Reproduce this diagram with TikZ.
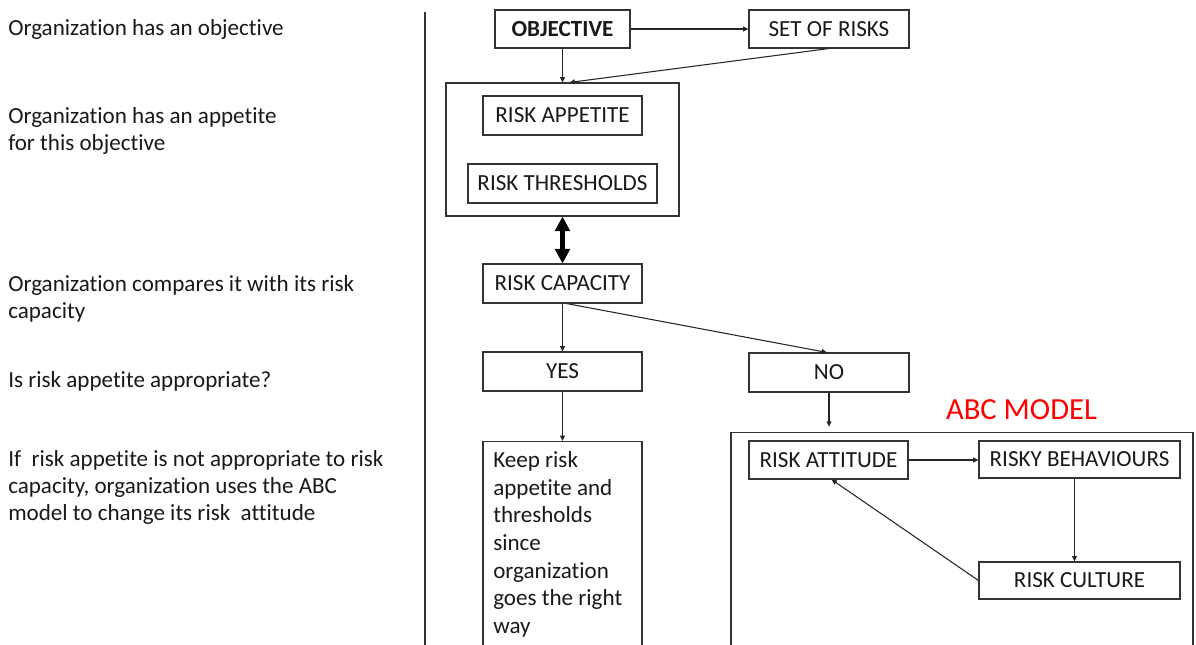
\documentclass[tikz,border=0pt]{standalone}
\usepackage{fontspec}
\setmainfont{Carlito}[Ligatures=NoCommon]
\usetikzlibrary{arrows.meta,calc}
\newcommand\diagfont{\fontsize{17.3}{20.3}\selectfont}
\begin{document}
\begin{tikzpicture}[x=0.75pt,y=-0.75pt,
  every node/.style={font=\diagfont, text=black!90},
  bx/.style 2 args={draw=black!80, line width=0.8pt, inner sep=0pt,
    minimum width={#1*0.75pt}, minimum height={#2*0.75pt}},
  side/.style={anchor=west, align=left, inner sep=0pt},
  conn/.style={draw=black!85, line width=0.8pt,
    -{Triangle[length=4pt,width=3.6pt]}},
  bigarrow/.style={draw=black, line width=3.5pt,
    {Triangle[length=11pt,width=11pt]}-{Triangle[length=11pt,width=11pt]}},
]
\useasboundingbox (0,0) rectangle (1196,645);
\clip (0,0) rectangle (1196,645);

% explanations on the left
\node[side] (t1) at (8,29.5) {Organization has an objective};
\node[side] (t2) at (8,131) {Organization has an appetite\\for this objective};
\node[side] (t3) at (8,298.5) {Organization compares it with its risk\\capacity};
\node[side] (t4) at (8,381) {Is risk appetite appropriate?};
\node[side] (t5) at (8,487.5) {If~ risk appetite is not appropriate to risk\\capacity, organization uses the ABC\\model to change its risk~ attitude};

% dividing rule
\coordinate (divtop) at (425,12);
\coordinate (divbot) at (425,645);
\draw[black!80, line width=0.8pt] (divtop) -- (divbot);

% flow chart
\node[bx={135}{38}, font=\diagfont\bfseries] (obj) at (562.5,29) {OBJECTIVE};
\node[bx={160}{38}] (risks) at (829,29) {SET OF RISKS};
\node[bx={233}{133}] (appbox) at (562.5,149.5) {};
\node[bx={159}{39}] (appetite) at (562.5,115.5) {RISK APPETITE};
\node[bx={189}{39}] (thresh) at (562.5,183.5) {RISK THRESHOLDS};
\node[bx={159}{39}] (cap) at (562.5,283.5) {RISK CAPACITY};
\node[bx={159}{39}] (yes) at (562.5,371.5) {YES};
\node[bx={160}{39}] (no) at (829,372.5) {NO};
\node[bx={159}{240}, anchor=north] (keep) at (562.5,441) {};
\node[anchor=north west, align=left, inner sep=0pt,
  font=\fontsize{17.3}{20.8}\selectfont] (keeptext) at (493,451)
  {Keep risk\\appetite and\\thresholds\\since\\organization\\goes the right\\way};

% ABC model
\node[font=\fontsize{23}{28}\selectfont, text=red, inner sep=0pt] (abctitle) at (1021.5,410) {ABC MODEL};
\node[bx={462}{240}, anchor=north] (abc) at (962,432) {};
\node[bx={159}{38}] (att) at (828.5,460) {RISK ATTITUDE};
\node[bx={201}{37}] (beh) at (1079.5,459.5) {RISKY BEHAVIOURS};
\node[bx={201}{37}] (cul) at (1079.5,580.5) {RISK CULTURE};

% connectors
\draw[conn] (obj.east) -- (risks.west);
\draw[conn] (obj.south) -- (appbox.north);
\draw[conn] (risks.south) -- ($(appbox.north)+(7,0)$);
\draw[bigarrow] (appbox.south) -- (cap.north);
\draw[conn] (cap.south) -- (yes.north);
\draw[conn] ($(cap.south)+(4,0)$) -- ($(no.north)+(-2,0)$);
\draw[conn] (yes.south) -- (keep.north);
\draw[conn, shorten >=4pt] (no.south) -- (no.south |- abc.north);
\draw[conn] (att.east) -- (att.east -| beh.west);
\draw[conn] ($(beh.south)+(-5,0)$) -- ($(cul.north)+(-5,0)$);
\draw[conn] (cul.west) -- ($(att.south)+(3,0)$);
\end{tikzpicture}
\end{document}
